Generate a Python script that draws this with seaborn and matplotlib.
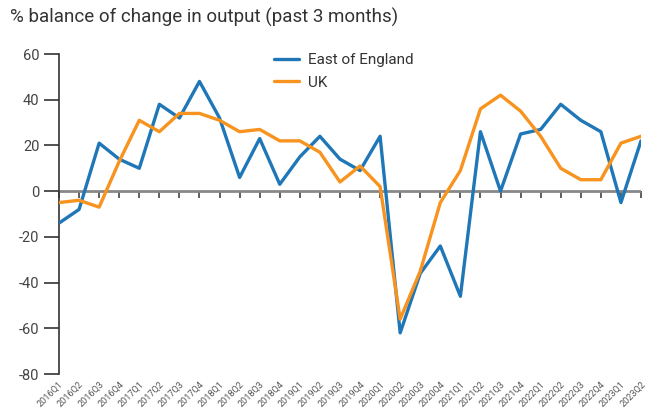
import matplotlib
matplotlib.use("Agg")
import matplotlib.pyplot as plt
import matplotlib.transforms as mtrans
import seaborn as sns
import pandas as pd
import numpy as np

quarters = ["2016Q1","2016Q2","2016Q3","2016Q4","2017Q1","2017Q2","2017Q3","2017Q4",
            "2018Q1","2018Q2","2018Q3","2018Q4","2019Q1","2019Q2","2019Q3","2019Q4",
            "2020Q1","2020Q2","2020Q3","2020Q4","2021Q1","2021Q2","2021Q3","2021Q4",
            "2022Q1","2022Q2","2022Q3","2022Q4","2023Q1","2023Q2"]
east = [-14, -8, 21, 14, 10, 38, 32, 48, 32, 6, 23, 3, 15, 24, 14, 9,
        24, -62, -36, -24, -46, 26, 0, 25, 27, 38, 31, 26, -5, 22]
uk = [-5, -4, -7, 13, 31, 26, 34, 34, 31, 26, 27, 22, 22, 17, 4, 11,
      2, -56, -35, -5, 9, 36, 42, 35, 24, 10, 5, 5, 21, 24]
series_names = ["East of England", "UK"]
yticks = [60, 40, 20, 0, -20, -40, -60, -80]
title = "% balance of change in output (past 3 months)"

sns.set_theme(style="white")
plt.rcParams["font.family"] = ["Roboto", "DejaVu Sans"]

df = pd.DataFrame({
    "q": list(range(len(quarters))) * 2,
    "value": east + uk,
    "series": [series_names[0]] * len(east) + [series_names[1]] * len(uk),
})

fig = plt.figure(figsize=(6.49, 4.12), dpi=100)
ax = fig.add_axes([59/649, 1 - 374/412, 582/649, 320/412])

ymin, ymax = -80, 60
# zero axis line
ax.axhline(0, color="#888888", linewidth=2, zorder=1)

sns.lineplot(data=df, x="q", y="value", hue="series",
             palette={"East of England": "#1f77b8", "UK": "#f7931e"},
             linewidth=2.4, ax=ax, zorder=3)

ax.set_ylim(ymin, ymax)
ax.set_xlim(0, len(quarters) - 1)
ax.set_yticks(yticks)
ax.set_yticklabels([str(v) for v in yticks], fontsize=10.5, color="#444444")
ax.set_xticks(range(len(quarters)))
ax.set_xticklabels(quarters, rotation=45, ha="right", va="top", rotation_mode="anchor",
                   fontsize=6.6, color="#555555")
offset = mtrans.ScaledTranslation(3/100, 0, fig.dpi_scale_trans)
for lab in ax.get_xticklabels():
    lab.set_transform(lab.get_transform() + offset)
ax.tick_params(axis="x", length=0, pad=4)
ax.tick_params(axis="y", length=11, width=1.2, color="#333333", pad=3, left=True)
ax.set_xlabel("")
ax.set_ylabel("")
for s in ["top", "right", "bottom"]:
    ax.spines[s].set_visible(False)
ax.spines["left"].set_color("#333333")
ax.spines["left"].set_linewidth(1.2)

# category ticks on the zero line
zero_frac = (0 - ymin) / (ymax - ymin)
sec = ax.secondary_xaxis(zero_frac)
sec.xaxis.set_ticks_position("bottom")
sec.set_xticks(range(len(quarters)))
sec.set_xticklabels([])
sec.tick_params(axis="x", which="both", length=5, width=1.1, color="#333333",
                direction="out", bottom=True, top=False)
for s in sec.spines:
    sec.spines[s].set_visible(False)

leg = ax.legend(loc="upper left", bbox_to_anchor=(0.346, 1.045), frameon=False,
                fontsize=11, handlelength=1.6, handletextpad=0.6, labelspacing=0.55)
for t in leg.get_texts():
    t.set_color("#333333")
for l in leg.get_lines():
    l.set_linewidth(2.4)

fig.text(10/649, 1 - 8/412, title, fontsize=13.5, color="#333333", va="top", ha="left")

fig.savefig("out.png", dpi=100)
